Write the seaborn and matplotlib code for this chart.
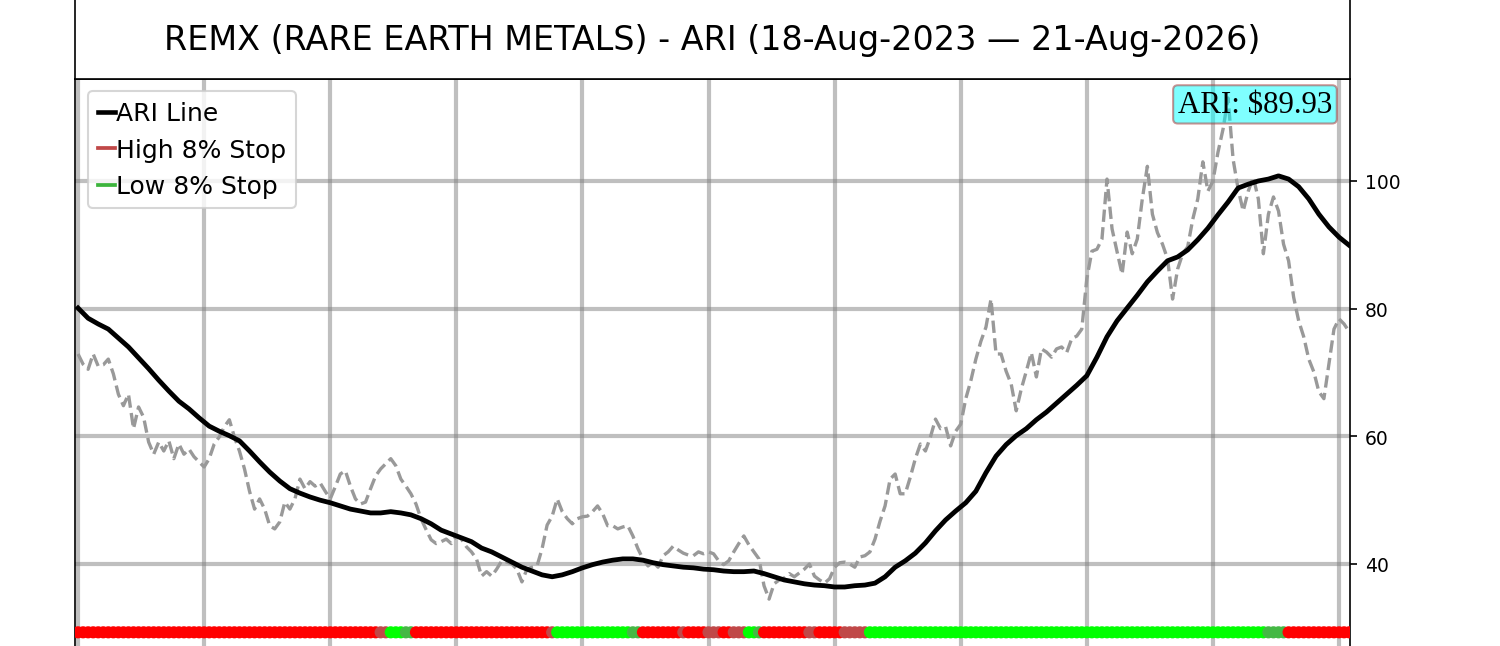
import numpy as np
import pandas as pd
import matplotlib
matplotlib.use("Agg")
import matplotlib.pyplot as plt
from matplotlib.lines import Line2D
from matplotlib.ticker import MultipleLocator
import seaborn as sns

TITLE = "REMX (RARE EARTH METALS) - ARI (18-Aug-2023 \u2014 21-Aug-2026)"

# closing price, one reading every 4 trading days
price = [
    72.9, 71.3, 70.5, 72.9, 71.0, 71.2, 72.1, 69.8, 66.6, 64.8,
    66.6, 61.2, 64.6, 63.0, 59.1, 57.2, 59.1, 57.7, 59.3, 56.5,
    58.8, 57.2, 58.0, 56.8, 56.0, 55.2, 56.5, 58.8, 59.9, 61.5,
    62.6, 59.9, 57.7, 54.9, 51.4, 48.6, 50.2, 48.6, 46.0, 45.5,
    46.6, 49.7, 48.6, 50.2, 53.3, 51.8, 52.9, 52.2, 52.7, 51.4,
    50.2, 52.1, 54.1, 54.6, 52.2, 50.2, 49.4, 49.7, 51.8, 53.8,
    54.9, 55.7, 56.5, 55.4, 53.3, 52.2, 51.0, 49.4, 47.1, 45.4,
    43.8, 43.2, 43.5, 43.9, 43.2, 44.4, 43.9, 42.7, 41.9, 40.8,
    38.1, 38.8, 38.1, 39.2, 40.5, 40.3, 40.0, 39.2, 37.2, 39.2,
    39.5, 39.7, 42.4, 46.1, 47.5, 50.2, 48.2, 47.1, 46.3, 47.1,
    47.4, 47.5, 48.2, 49.1, 47.9, 46.0, 46.0, 45.5, 45.8, 46.0,
    44.4, 42.4, 40.8, 39.7, 40.3, 39.5, 41.3, 41.9, 42.8, 42.2,
    41.7, 41.4, 41.3, 41.9, 41.6, 41.9, 41.6, 40.5, 39.9, 40.5,
    41.9, 43.2, 44.4, 43.0, 41.9, 40.8, 36.6, 34.5, 36.9, 37.5,
    37.8, 38.5, 38.0, 38.6, 39.2, 40.0, 38.1, 37.5, 37.0, 37.7,
    39.5, 40.2, 40.3, 40.0, 39.5, 41.1, 41.3, 41.9, 43.9, 46.7,
    49.1, 53.3, 54.1, 51.0, 51.0, 53.6, 56.5, 58.8, 57.7, 59.9,
    62.7, 61.2, 61.5, 58.5, 60.8, 61.9, 65.9, 68.7, 72.1, 74.9,
    77.1, 81.5, 72.9, 72.9, 70.2, 68.2, 64.0, 67.4, 70.2, 73.1,
    69.3, 73.7, 73.2, 72.4, 73.7, 74.0, 73.1, 75.3, 75.7, 76.8,
    84.7, 89.0, 89.3, 90.9, 100.3, 92.5, 88.9, 85.4, 92.0, 88.6,
    90.9, 97.2, 102.3, 94.8, 91.9, 90.1, 87.8, 81.5, 86.2, 88.6,
    89.7, 94.0, 97.2, 103.0, 98.4, 100.0, 104.5, 108.1, 113.0, 103.4,
    98.7, 95.3, 98.4, 100.6, 97.2, 88.6, 94.8, 97.5, 95.3, 90.1,
    87.5, 81.8, 78.1, 75.6, 72.1, 70.1, 67.0, 65.9, 71.3, 76.8,
    78.4, 77.6, 76.4,
]

# ARI line, one reading every 8 trading days (every 2nd price reading)
ari = [
    80.1, 78.5, 77.6, 76.8, 75.4, 74.0, 72.3, 70.6, 68.8, 67.1,
    65.5, 64.3, 62.9, 61.6, 60.8, 60.1, 59.3, 57.7, 56.0, 54.4,
    53.0, 51.8, 51.1, 50.5, 50.0, 49.6, 49.1, 48.6, 48.3, 48.0,
    48.0, 48.2, 48.0, 47.7, 47.1, 46.3, 45.3, 44.7, 44.1, 43.5,
    42.5, 41.9, 41.1, 40.3, 39.5, 38.9, 38.3, 38.0, 38.3, 38.8,
    39.4, 39.9, 40.3, 40.6, 40.8, 40.8, 40.6, 40.2, 39.9, 39.7,
    39.5, 39.4, 39.2, 39.1, 38.9, 38.8, 38.8, 38.9, 38.5, 38.0,
    37.5, 37.2, 36.9, 36.7, 36.6, 36.4, 36.4, 36.6, 36.7, 37.0,
    38.0, 39.5, 40.5, 41.7, 43.3, 45.2, 46.9, 48.3, 49.6, 51.4,
    54.3, 56.9, 58.7, 60.1, 61.2, 62.6, 63.8, 65.2, 66.6, 68.0,
    69.5, 72.4, 75.6, 78.1, 80.1, 82.1, 84.2, 85.9, 87.5, 88.1,
    89.2, 90.8, 92.6, 94.7, 96.7, 98.9, 99.5, 100.0, 100.3, 100.8,
    100.3, 99.1, 97.2, 94.8, 92.8, 91.2, 89.93,
]

# stop state along the price readings: R below ARI, G above, r/g = 8% stop hit
stop_runs = [
    ("R", 60), ("r", 2), ("G", 3), ("g", 2), ("R", 27), ("r", 1), ("G", 15),
    ("g", 2), ("R", 8), ("r", 1), ("R", 4), ("r", 3), ("R", 2), ("r", 3),
    ("G", 2), ("g", 1), ("R", 9), ("r", 2), ("R", 5), ("r", 5), ("G", 79),
    ("g", 4), ("R", 13),
]

stop_colors = {"R": "#ff0000", "r": "#c04848", "G": "#00ff00", "g": "#44b844"}
strip_level = 29.3

days = np.arange(len(price)) * 4
ari_days = days[::2]
states = [s for s, n in stop_runs for _ in range(n)]
stops = pd.DataFrame({"day": days, "level": strip_level, "state": states})

fig = plt.figure(figsize=(10, 4.3133), dpi=150)
ax = fig.add_axes([0.05, -0.0114, 0.85, 0.8878])
tax = fig.add_axes([0.05, 0.87635, 0.85, 0.12365])

ax.set_axisbelow(True)
ax.grid(True, color="gray", alpha=0.5, linewidth=2)

sns.lineplot(x=days, y=price, color="#999999", linewidth=1.6, linestyle="--", ax=ax)
sns.lineplot(x=ari_days, y=ari, color="black", linewidth=2.3, ax=ax)
sns.scatterplot(data=stops, x="day", y="level", hue="state", palette=stop_colors,
                s=34, linewidth=0, legend=False, ax=ax, zorder=3)

ax.set_xlim(-2.4, 1008.7)
ax.set_ylim(26, 115.98)
ax.xaxis.set_major_locator(MultipleLocator(100))
ax.set_yticks([40, 60, 80, 100])
ax.yaxis.tick_right()
ax.tick_params(axis="y", labelsize=9)
ax.tick_params(axis="x", labelbottom=False, length=0)
ax.set_xlabel("")
ax.set_ylabel("")

handles = [
    Line2D([], [], color="black", linewidth=2.2),
    Line2D([], [], color="#c04848", linewidth=1.8),
    Line2D([], [], color="#3cb43c", linewidth=1.8),
]
ax.legend(handles, ["ARI Line", "High 8% Stop", "Low 8% Stop"], loc="upper left",
          fontsize=12, handlelength=0.7, handletextpad=0.05)

ax.text(0.986, 0.981, f"ARI: ${ari[-1]:.2f}", transform=ax.transAxes, ha="right", va="top",
        fontsize=14.8, family="Liberation Serif",
        bbox=dict(boxstyle="round,pad=0.15", facecolor="cyan", edgecolor="brown", alpha=0.5))

tax.set_xticks([])
tax.set_yticks([])
tax.text(0.5, 0.5, TITLE, ha="center", va="center", fontsize=16, transform=tax.transAxes)

fig.savefig("out.png", dpi=150)
